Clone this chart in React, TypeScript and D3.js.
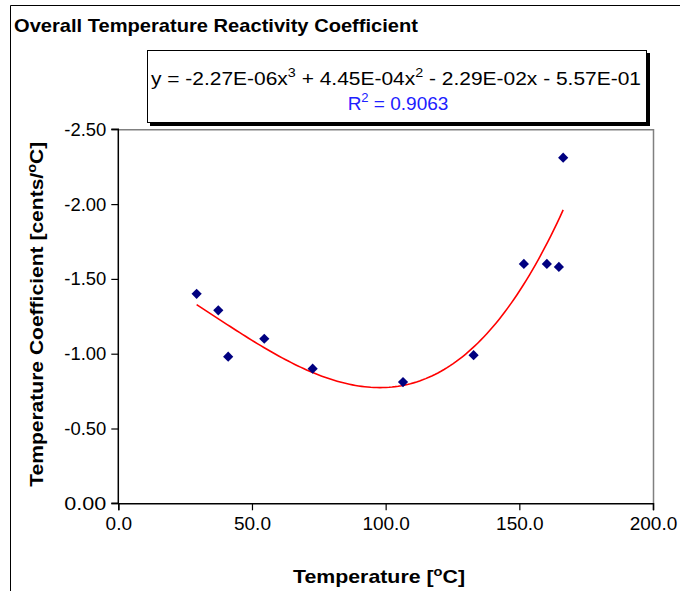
import React, { useRef, useEffect } from "react";
import * as d3 from "d3";

// measured points (temperature in °C, coefficient in cents/°C)
const temps = [29.3, 37.4, 41.1, 54.6, 72.7, 106.5, 132.9, 151.7, 160.3, 164.8, 166.4];
const coeffs = [-1.40, -1.29, -0.98, -1.10, -0.90, -0.81, -0.99, -1.60, -1.60, -1.58, -2.31];

const xTicks = [0, 50, 100, 150, 200];
const yTicks = [0, -0.5, -1.0, -1.5, -2.0, -2.5];

const titleText = "Overall Temperature Reactivity Coefficient";
const r2Text = "0.9063";

// least squares cubic, like Excel's polynomial trendline
function cubicFit(xs: number[], ys: number[]) {
  const n = 4;
  const A = Array.from({ length: n }, () => new Array(n + 1).fill(0));
  xs.forEach((x, k) => {
    for (let i = 0; i < n; i++) {
      for (let j = 0; j < n; j++) A[i][j] += Math.pow(x, i + j);
      A[i][n] += ys[k] * Math.pow(x, i);
    }
  });
  for (let c = 0; c < n; c++) {
    let p = c;
    for (let r = c + 1; r < n; r++) if (Math.abs(A[r][c]) > Math.abs(A[p][c])) p = r;
    [A[c], A[p]] = [A[p], A[c]];
    for (let r = 0; r < n; r++) {
      if (r === c) continue;
      const f = A[r][c] / A[c][c];
      for (let j = c; j <= n; j++) A[r][j] -= f * A[c][j];
    }
  }
  const b = A.map((row, i) => row[n] / row[i]);
  return (x: number) => b[0] + b[1] * x + b[2] * x * x + b[3] * x * x * x;
}

const FONT = "'Liberation Sans', Arial, sans-serif";

const App = () => {
  const svgRef = useRef<SVGSVGElement>(null);

  useEffect(() => {
    document.body.style.margin = "0";
    const svg = d3.select(svgRef.current);
    svg.selectAll("*").remove();

    const width = 680;
    const height = 591;
    svg.attr("width", width).attr("height", height).style("font-family", FONT);

    const x = d3.scaleLinear().domain([0, 200]).range([118.3, 653]);
    const y = d3.scaleLinear().domain([0, -2.5]).range([503.3, 129.3]);

    svg.append("rect").attr("width", width).attr("height", height).attr("fill", "#fff");

    // chart frame
    svg.append("path")
      .attr("d", `M10.5,${height} V5.5 H${width}`)
      .attr("fill", "none").attr("stroke", "#000").attr("stroke-width", 1);

    svg.append("text")
      .attr("x", 14).attr("y", 32)
      .attr("font-size", 19).attr("font-weight", "bold")
      .attr("textLength", 404).attr("lengthAdjust", "spacingAndGlyphs")
      .text(titleText);

    // plot area border
    svg.append("path")
      .attr("d", `M${x(0)},${y(-2.5) + 0.5} H${x(200) + 0.5} V${y(0)}`)
      .attr("fill", "none").attr("stroke", "#808080").attr("stroke-width", 1.5);

    // axes (plain hyphen minus, as in the original)
    const yAxis = svg.append("g").attr("transform", `translate(${x(0)},0)`)
      .call(d3.axisLeft(y).tickValues(yTicks).tickSize(7).tickPadding(5)
        .tickFormat((d) => (+d).toFixed(2)));
    const xAxis = svg.append("g").attr("transform", `translate(0,${y(0)})`)
      .call(d3.axisBottom(x).tickValues(xTicks).tickSize(7).tickPadding(6)
        .tickFormat((d) => (+d).toFixed(1)));
    [xAxis, yAxis].forEach((g) => {
      g.select(".domain").attr("stroke", "#000").attr("stroke-width", 1.5);
      g.selectAll(".tick line").attr("stroke", "#000").attr("stroke-width", 1.2);
      g.selectAll(".tick text").attr("font-size", 19).attr("font-family", FONT).attr("fill", "#000");
    });
    yAxis.select(".domain").attr("d", `M-7,${y(-2.5)}H0V${y(0)}H-7`);
    yAxis.selectAll(".tick text").attr("textLength", 42).attr("lengthAdjust", "spacingAndGlyphs");

    // trendline
    const fit = cubicFit(temps, coeffs);
    const [x0, x1] = d3.extent(temps) as [number, number];
    const fx = d3.range(0, 121).map((i) => x0 + ((x1 - x0) * i) / 120);
    svg.append("path")
      .datum(fx)
      .attr("d", d3.line<number>().x((d) => x(d)).y((d) => y(fit(d))))
      .attr("fill", "none").attr("stroke", "#ff0000").attr("stroke-width", 1.6);

    // points
    const diamond = d3.symbol().type(d3.symbolSquare).size(52);
    svg.append("g").selectAll("path")
      .data(temps)
      .enter()
      .append("path")
      .attr("d", diamond)
      .attr("transform", (d, i) => `translate(${x(d)},${y(coeffs[i])}) rotate(45)`)
      .attr("fill", "#000080");

    // equation box
    const box = svg.append("g");
    box.append("rect").attr("x", 150).attr("y", 53).attr("width", 500).attr("height", 73).attr("fill", "#000");
    box.append("rect").attr("x", 147.5).attr("y", 50.5).attr("width", 499).attr("height", 72)
      .attr("fill", "#fff").attr("stroke", "#000").attr("stroke-width", 1);
    const eq = box.append("text")
      .attr("x", 151).attr("y", 85).attr("font-size", 19)
      .attr("textLength", 490).attr("lengthAdjust", "spacingAndGlyphs");
    eq.append("tspan").text("y = -2.27E-06x");
    eq.append("tspan").attr("dy", -8).attr("font-size", 13).text("3");
    eq.append("tspan").attr("dy", 8).text(" + 4.45E-04x");
    eq.append("tspan").attr("dy", -8).attr("font-size", 13).text("2");
    eq.append("tspan").attr("dy", 8).text(" - 2.29E-02x - 5.57E-01");
    const r2 = box.append("text")
      .attr("x", 398).attr("y", 110).attr("font-size", 19).attr("fill", "#2020ff")
      .attr("text-anchor", "middle");
    r2.append("tspan").text("R");
    r2.append("tspan").attr("dy", -8).attr("font-size", 13).text("2");
    r2.append("tspan").attr("dy", 8).text(" = " + r2Text);

    // axis titles
    const yt = svg.append("text")
      .attr("transform", `translate(43,${(y(0) + y(-2.5)) / 2 - 2}) rotate(-90)`)
      .attr("text-anchor", "middle").attr("font-size", 19).attr("font-weight", "bold")
      .attr("textLength", 345).attr("lengthAdjust", "spacingAndGlyphs");
    yt.append("tspan").text("Temperature Coefficient [cents/");
    yt.append("tspan").attr("dy", -7).attr("font-size", 13).text("o");
    yt.append("tspan").attr("dy", 7).text("C]");

    const xt = svg.append("text")
      .attr("x", 379).attr("y", 583)
      .attr("text-anchor", "middle").attr("font-size", 19).attr("font-weight", "bold")
      .attr("textLength", 172).attr("lengthAdjust", "spacingAndGlyphs");
    xt.append("tspan").text("Temperature [");
    xt.append("tspan").attr("dy", -7).attr("font-size", 13).text("o");
    xt.append("tspan").attr("dy", 7).text("C]");
  }, []);

  return <svg ref={svgRef} />;
};

export default App;
